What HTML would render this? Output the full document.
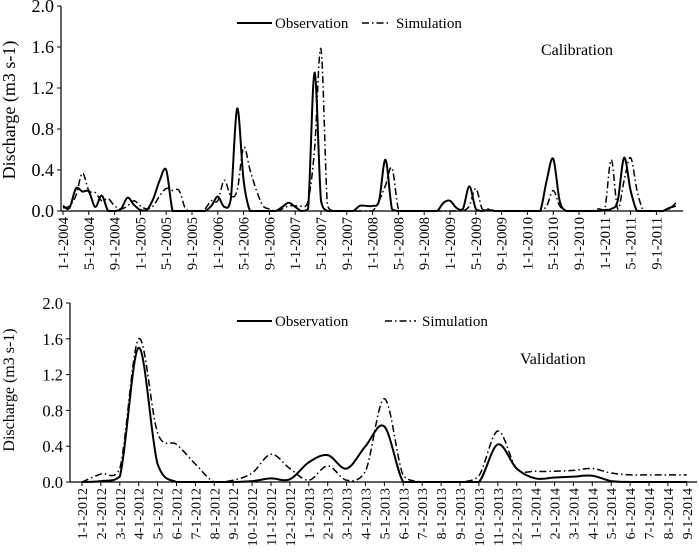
<!DOCTYPE html>
<html><head><meta charset="utf-8"><style>
body{margin:0;background:#fff;}
svg{display:block;font-family:"Liberation Serif",serif;}
</style></head><body>
<svg id="c" width="699" height="558"></svg>
<script>
const topLabels=["1-1-2004","5-1-2004","9-1-2004","1-1-2005","5-1-2005","9-1-2005","1-1-2006","5-1-2006","9-1-2006","1-1-2007","5-1-2007","9-1-2007","1-1-2008","5-1-2008","9-1-2008","1-1-2009","5-1-2009","9-1-2009","1-1-2010","5-1-2010","9-1-2010","1-1-2011","5-1-2011","9-1-2011"];
const topObs=[0.05,0.03,0.22,0.19,0.19,0.04,0.15,0,0,0.02,0.13,0.06,0.01,0.01,0.12,0.3,0.4,0,0,0,0,0,0,0.05,0.14,0.04,0.11,1.0,0.3,0,0,0,0,0,0.04,0.08,0.04,0,0.02,1.35,0.1,0,0,0,0,0,0.05,0.05,0.05,0.1,0.5,0.02,0,0,0,0,0,0,0,0.08,0.1,0.03,0.02,0.24,0.02,0,0.01,0,0,0,0,0,0,0,0,0.3,0.51,0.1,0,0,0,0,0,0,0.01,0.02,0.1,0.52,0.2,0,0,0,0,0,0.03,0.05];
const topSim=[0.03,0.05,0.15,0.37,0.2,0.18,0.1,0.12,0.05,0.02,0.05,0.1,0.05,0.02,0.05,0.15,0.22,0.2,0.2,0.02,0,0,0.02,0.1,0.1,0.3,0.15,0.2,0.62,0.4,0.2,0.05,0.02,0,0.02,0.05,0.05,0.05,0.1,0.6,1.58,0.05,0,0,0,0,0,0,0,0.1,0.25,0.42,0.02,0,0,0,0,0,0,0,0,0,0,0.05,0.22,0.02,0.02,0,0,0,0,0,0,0,0,0.05,0.2,0.05,0,0,0,0,0,0.02,0.02,0.5,0.02,0.3,0.52,0.2,0,0,0,0,0.02,0.08];
const botLabels=["1-1-2012","2-1-2012","3-1-2012","4-1-2012","5-1-2012","6-1-2012","7-1-2012","8-1-2012","9-1-2012","10-1-2012","11-1-2012","12-1-2012","1-1-2013","2-1-2013","3-1-2013","4-1-2013","5-1-2013","6-1-2013","7-1-2013","8-1-2013","9-1-2013","10-1-2013","11-1-2013","12-1-2013","1-1-2014","2-1-2014","3-1-2014","4-1-2014","5-1-2014","6-1-2014","7-1-2014","8-1-2014","9-1-2014"];
const botObs=[0,0.01,0.06,1.5,0.2,0,0,0,0,0.01,0.04,0.03,0.22,0.3,0.15,0.4,0.62,0,0,0,0,0,0.42,0.15,0.04,0.05,0.06,0.07,0.01,0,0,0,0];
const botSim=[0,0.09,0.15,1.6,0.55,0.42,0.2,0,0.02,0.1,0.31,0.15,0.02,0.18,0.02,0.12,0.93,0.07,0,0,0,0.07,0.57,0.15,0.12,0.12,0.13,0.15,0.1,0.08,0.08,0.08,0.08];
const yTicks=["0.0","0.4","0.8","1.2","1.6","2.0"];

const svg=document.getElementById('c');
const NS="http://www.w3.org/2000/svg";
function mk(t,a,p){const e=document.createElementNS(NS,t);for(const k in a)e.setAttribute(k,a[k]);(p||svg).appendChild(e);return e;}
function smooth(pts,yb){const c=v=>Math.min(v,yb);let d="M"+pts[0][0]+","+pts[0][1];for(let i=0;i<pts.length-1;i++){const p0=pts[i-1]||pts[i],p1=pts[i],p2=pts[i+1],p3=pts[i+2]||p2;
d+=" C"+(p1[0]+(p2[0]-p0[0])/6)+","+c(p1[1]+(p2[1]-p0[1])/6)+" "+(p2[0]-(p3[0]-p1[0])/6)+","+c(p2[1]-(p3[1]-p1[1])/6)+" "+p2[0]+","+p2[1];}return d;}

function chart(o){
  const g=mk('g',{});
  
  
  const X=m=>o.x0+o.dx*m, Y=v=>o.y0-v*o.sy;
  mk('line',{x1:o.ax,y1:Y(2),x2:o.ax,y2:o.y0,stroke:'#000','stroke-width':1.2},g);
  mk('line',{x1:o.ax,y1:o.y0,x2:o.axEnd,y2:o.y0,stroke:'#000','stroke-width':1.2},g);
  yTicks.forEach((t,i)=>{const y=Y(i*0.4);
    mk('line',{x1:o.ax-4,y1:y,x2:o.ax,y2:y,stroke:'#000'},g);
    const tx=mk('text',{x:o.ax-7,y:y+6,'text-anchor':'end','font-size':o.tfs},g);tx.textContent=t;
    });
  o.labels.forEach((t,i)=>{const m=i*o.step,x=X(m);
    mk('line',{x1:x,y1:o.y0,x2:x,y2:o.y0+4,stroke:'#000'},g);
    const tx=mk('text',{x:0,y:0,'text-anchor':'end','font-size':o.xfs,transform:`translate(${x+5},${o.y0+6}) rotate(-90)`},g);tx.textContent=t;
    });
  const yt=mk('text',{x:0,y:0,'text-anchor':'middle','font-size':o.yfs,transform:`translate(${o.ytx},${o.yty}) rotate(-90)`},g);
  yt.textContent="Discharge (m3 s-1)";
  const po=mk('path',{d:smooth(o.obs.map((v,i)=>[X(i),Y(v)]),o.y0),fill:'none',stroke:'#000','stroke-width':2},g);
  
  const ps=mk('path',{d:smooth(o.sim.map((v,i)=>[X(i),Y(v)]),o.y0),fill:'none',stroke:'#000','stroke-width':1.5,'stroke-dasharray':'7,3,1.5,3'},g);
  
  const L=o.leg;
  mk('line',{x1:L.ox1,y1:L.y,x2:L.ox2,y2:L.y,stroke:'#000','stroke-width':2},g);
  let t=mk('text',{x:L.ox2+3,y:L.y+5,'font-size':15},g);t.textContent="Observation";
  mk('line',{x1:L.sx1,y1:L.y,x2:L.sx2,y2:L.y,stroke:'#000','stroke-width':1.5,'stroke-dasharray':'7,3,1.5,3'},g);
  t=mk('text',{x:L.sx2+6,y:L.y+5,'font-size':15},g);t.textContent="Simulation";
  t=mk('text',{x:o.tx,y:o.ty,'font-size':16},g);t.textContent=o.title;
}
chart({name:'calibration-chart',x0:63,dx:6.45,step:4,y0:211,sy:102.5,ax:61,axEnd:683,labels:topLabels,obs:topObs,sim:topSim,
  tfs:18,xfs:14.5,yfs:18,ytx:15,yty:110,leg:{y:23,ox1:237,ox2:272,sx1:362,sx2:390},tx:541,ty:55,title:"Calibration"});
chart({name:'validation-chart',x0:82,dx:18.9,step:1,y0:482,sy:89.5,ax:70,axEnd:697,labels:botLabels,obs:botObs,sim:botSim,
  tfs:16.5,xfs:14,yfs:16,ytx:14,yty:390,leg:{y:321,ox1:237,ox2:272,sx1:385,sx2:416},tx:520,ty:364,title:"Validation"});
</script>
</body></html>
